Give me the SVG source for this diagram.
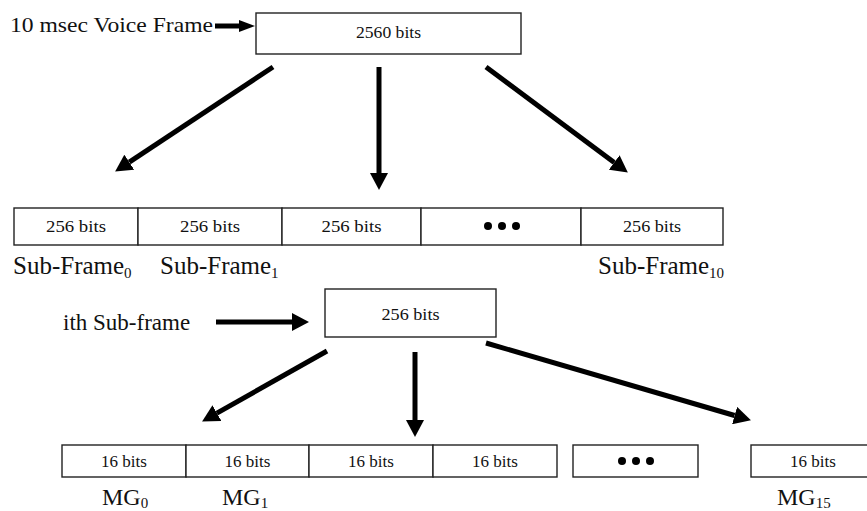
<svg xmlns="http://www.w3.org/2000/svg" width="867" height="511" viewBox="0 0 867 511">
<style>
.box{fill:#fff;stroke:#222;stroke-width:1.4}
.t{font-family:"Liberation Serif","Times New Roman",Times,serif;fill:#111}
.bt{font-size:17px;text-anchor:middle}
.lb{font-size:25px}
.sub{font-size:15px}
.arr{stroke:#000;stroke-width:5;fill:none}
.dot{fill:#000}
</style>
<defs>
<marker id="hb" markerUnits="userSpaceOnUse" markerWidth="17" markerHeight="18" refX="0" refY="9" orient="auto"><path d="M0,0 L17,9 L0,18 z" fill="#000"/></marker>
<marker id="hs" markerUnits="userSpaceOnUse" markerWidth="16" markerHeight="12" refX="0" refY="6" orient="auto"><path d="M0,0 L16,6 L0,12 z" fill="#000"/></marker>
</defs>
<rect width="867" height="511" fill="#fff"/>

<text class="t" x="10" y="32" font-size="22" textLength="203" lengthAdjust="spacingAndGlyphs">10 msec Voice Frame</text>

<g id="frame">
<rect class="box" x="256" y="13" width="265" height="41"/>
<text class="t bt" x="388.5" y="38" textLength="65" lengthAdjust="spacingAndGlyphs">2560 bits</text>
</g>

<g id="subframes">
<g id="sf0"><rect class="box" x="14" y="208" width="124" height="37"/><text class="t bt" x="76" y="232" textLength="60" lengthAdjust="spacingAndGlyphs">256 bits</text></g>
<g id="sf1"><rect class="box" x="138" y="208" width="144" height="37"/><text class="t bt" x="210" y="232" textLength="60" lengthAdjust="spacingAndGlyphs">256 bits</text></g>
<g id="sf2"><rect class="box" x="282" y="208" width="139" height="37"/><text class="t bt" x="351.5" y="232" textLength="60" lengthAdjust="spacingAndGlyphs">256 bits</text></g>
<g id="sfdots"><rect class="box" x="421" y="208" width="160" height="37"/><circle class="dot" cx="488" cy="226" r="4"/><circle class="dot" cx="502" cy="226" r="4"/><circle class="dot" cx="516" cy="226" r="4"/></g>
<g id="sf10"><rect class="box" x="581" y="208" width="142" height="37"/><text class="t bt" x="652" y="232" textLength="58" lengthAdjust="spacingAndGlyphs">256 bits</text></g>
</g>
<text class="t lb" x="13" y="274">Sub-Frame<tspan class="sub" dy="4">0</tspan></text>
<text class="t lb" x="160" y="274">Sub-Frame<tspan class="sub" dy="4">1</tspan></text>
<text class="t lb" x="598" y="274">Sub-Frame<tspan class="sub" dy="4">10</tspan></text>

<text class="t" x="63" y="330" font-size="23">ith Sub-frame</text>

<g id="isub">
<rect class="box" x="325" y="289" width="171" height="48"/>
<text class="t bt" x="410.5" y="320" textLength="58" lengthAdjust="spacingAndGlyphs">256 bits</text>
</g>

<g id="mgs">
<g id="mg0"><rect class="box" x="62" y="445" width="124" height="32"/><text class="t bt" x="124" y="467">16 bits</text></g>
<g id="mg1"><rect class="box" x="186" y="445" width="123" height="32"/><text class="t bt" x="247.5" y="467">16 bits</text></g>
<g id="mg2"><rect class="box" x="309" y="445" width="124" height="32"/><text class="t bt" x="371" y="467">16 bits</text></g>
<g id="mg3"><rect class="box" x="433" y="445" width="124" height="32"/><text class="t bt" x="495" y="467">16 bits</text></g>
<g id="mgdots"><rect class="box" x="573" y="445" width="125" height="32"/><circle class="dot" cx="622" cy="461" r="4"/><circle class="dot" cx="636" cy="461" r="4"/><circle class="dot" cx="650" cy="461" r="4"/></g>
<g id="mg15"><rect class="box" x="751" y="445" width="125" height="32"/><text class="t bt" x="813" y="467">16 bits</text></g>
</g>
<text class="t" x="102" y="505" font-size="24">MG<tspan class="sub" dy="3">0</tspan></text>
<text class="t" x="222" y="505" font-size="24">MG<tspan class="sub" dy="3">1</tspan></text>
<text class="t" x="777" y="505" font-size="24">MG<tspan class="sub" dy="3">15</tspan></text>

<g id="connectors">
<line class="arr" x1="215" y1="26" x2="239" y2="26" marker-end="url(#hs)"/>
<line class="arr" x1="273" y1="67" x2="129.3" y2="162.2" marker-end="url(#hb)"/>
<line class="arr" x1="379" y1="67" x2="379" y2="173" marker-end="url(#hb)"/>
<line class="arr" x1="486" y1="67" x2="614.2" y2="162.4" marker-end="url(#hb)"/>
<line class="arr" x1="216" y1="322" x2="292" y2="322" marker-end="url(#hb)"/>
<line class="arr" x1="327" y1="351" x2="216.9" y2="413.1" marker-end="url(#hb)"/>
<line class="arr" x1="415" y1="352" x2="415" y2="420" marker-end="url(#hb)"/>
<line class="arr" x1="486" y1="343" x2="734.6" y2="415.5" marker-end="url(#hb)"/>
</g>
</svg>
